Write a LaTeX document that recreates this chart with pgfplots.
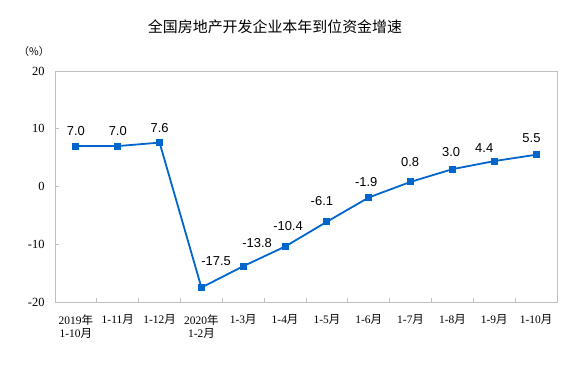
\documentclass[border=0pt]{standalone}
\usepackage{pgfplots}
\usepackage{pgfplotstable}
\pgfplotsset{compat=1.18}
\usepackage{fontspec}
\setmainfont{Liberation Serif}
\newfontfamily\cjk{Noto Sans CJK SC}
\newfontfamily\arial{Liberation Sans}
\newcommand{\nian}{{\cjk 年}}
\newcommand{\yue}{{\cjk 月}}
\definecolor{lineblue}{RGB}{0,102,204}
\definecolor{framegray}{RGB}{191,191,191}

\pgfplotstableread{
x y
0 7.0
1 7.0
2 7.6
3 -17.5
4 -13.8
5 -10.4
6 -6.1
7 -1.9
8 0.8
9 3.0
10 4.4
11 5.5
}\datatable

\pgfplotstableread{
x y lab
0 9.57 7.0
1 9.57 7.0
2 10.1 7.6
3.35 -13.0 -17.5
4.33 -9.74 -13.8
5.07 -6.78 -10.4
5.88 -2.6 -6.1
6.94 0.7 -1.9
7.99 4.17 0.8
8.97 5.9 3.0
9.76 6.6 4.4
10.89 8.35 5.5
}\labeltable

\begin{document}
\begin{tikzpicture}
\path[use as bounding box] (0,0) rectangle (564bp,367bp);
\node[font=\cjk\fontsize{15}{18}\selectfont] at (275bp,340bp) {全国房地产开发企业本年到位资金增速};
\node[font=\cjk\fontsize{10.5}{12}\selectfont] at (34bp,315bp) {（\%）};
\begin{axis}[
  at={(55bp,65bp)}, anchor=south west,
  width=502bp, height=231bp, scale only axis,
  xmin=-0.5, xmax=11.5, ymin=-20, ymax=20,
  axis line style={framegray, line width=0.8bp},
  tick style={framegray, line width=0.8bp},
  tick align=inside, tick pos=left,
  major tick length=4bp, minor tick length=4bp,
  ytick={-20,-10,0,10,20},
  yticklabel style={font=\fontsize{12.5}{14}\selectfont, xshift=-7bp},
  /pgf/number format/assume math mode=true,
  xtick={0,...,11},
  major x tick style={draw=none},
  minor xtick={0.5,1.5,...,10.5},
  xticklabels={{2019\nian\\1-10\yue},{1-11\yue},{1-12\yue},{2020\nian\\1-2\yue},{1-3\yue},{1-4\yue},{1-5\yue},{1-6\yue},{1-7\yue},{1-8\yue},{1-9\yue},{1-10\yue}},
  xticklabel style={align=center, font=\fontsize{11.5}{13.5}\selectfont, yshift=-9bp},
  clip=false,
]
\addplot[lineblue, line width=1.8bp, mark=square*, mark size=2.6bp, mark options={solid, fill=lineblue}] table[x=x,y=y] {\datatable};
\addplot[draw=none, mark=none, nodes near coords, point meta=explicit symbolic,
  every node near coord/.append style={anchor=center, inner sep=0pt, font=\arial\fontsize{13}{15}\selectfont, text=black}]
  table[x=x,y=y,meta=lab] {\labeltable};
\end{axis}
\end{tikzpicture}
\end{document}
